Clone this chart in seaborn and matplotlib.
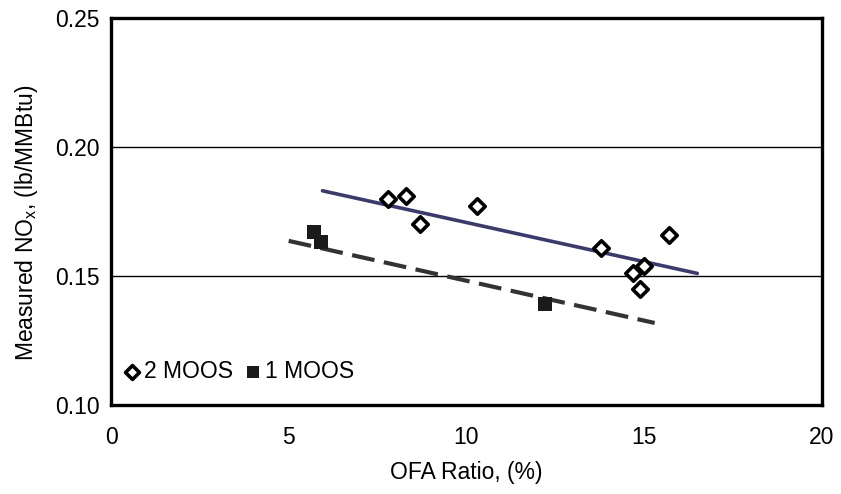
"""NOx vs OFA ratio scatter with trend lines."""
import matplotlib
matplotlib.use("Agg")
import matplotlib.pyplot as plt
import numpy as np
import pandas as pd
import seaborn as sns

# 2 MOOS data
ofa_2moos = [7.8, 8.3, 8.7, 10.3, 13.8, 14.7, 14.9, 15.0, 15.7]
nox_2moos = [0.180, 0.181, 0.170, 0.177, 0.161, 0.151, 0.145, 0.154, 0.166]
# 1 MOOS data
ofa_1moos = [5.7, 5.9, 12.2]
nox_1moos = [0.167, 0.163, 0.139]
# trend line end points
trend_2_x = [5.95, 16.5]
trend_2_y = [0.183, 0.151]
trend_1_x = [5.0, 15.3]
trend_1_y = [0.1636, 0.1318]

x_ticks = [0, 5, 10, 15, 20]
y_ticks = [0.10, 0.15, 0.20, 0.25]

FS = 16.5

sns.set_theme(style="white")
plt.rcParams.update({
    "font.family": ["Liberation Sans", "DejaVu Sans"],
    "text.color": "black",
    "axes.labelcolor": "black",
    "xtick.color": "black",
    "ytick.color": "black",
})

fig = plt.figure(figsize=(8.41, 4.94), dpi=100)
ax = fig.add_axes([0.132, 0.180, 0.845, 0.784])

for yv in [0.15, 0.20]:
    ax.axhline(yv, color="black", lw=1.0, zorder=1)

sns.lineplot(x=trend_2_x, y=trend_2_y, ax=ax, color="#3b3b6b", lw=2.6,
             zorder=2, legend=False)
sns.lineplot(x=trend_1_x, y=trend_1_y, ax=ax, color="#333333", lw=3.0,
             zorder=2, legend=False)
ax.lines[-1].set_dashes([5.5, 2.3])

sns.scatterplot(x=ofa_2moos, y=nox_2moos, ax=ax, marker="D", s=62,
                facecolor="white", edgecolor="black", linewidth=2.6,
                label="2 MOOS", zorder=3)
sns.scatterplot(x=ofa_1moos, y=nox_1moos, ax=ax, marker="s", s=105,
                color="#1a1a1a", edgecolor="#1a1a1a", linewidth=0,
                label="1 MOOS", zorder=3)

ax.set_xlim(0, 20)
ax.set_ylim(0.10, 0.25)
ax.set_xticks(x_ticks)
ax.set_xticklabels([str(v) for v in x_ticks])
ax.set_yticks(y_ticks)
ax.set_yticklabels([f"{v:.2f}" for v in y_ticks])
ax.tick_params(axis="both", direction="out", length=5, width=1.2,
               color="black", labelcolor="black", labelsize=FS, pad=3)
ax.tick_params(axis="x", pad=10)
for sp in ax.spines.values():
    sp.set_linewidth(2.4)
    sp.set_color("black")

ax.set_xlabel("OFA Ratio, (%)", fontsize=FS, labelpad=9)
ax.set_ylabel("Measured NO$_\\mathregular{x}$, (lb/MMBtu)", fontsize=FS)
ax.yaxis.set_label_coords(-0.10, 0.47)

ax.legend(loc="lower left", bbox_to_anchor=(-0.013, 0.01), ncol=2,
          frameon=False, fontsize=FS, handlelength=1.0, handletextpad=0.05,
          columnspacing=0.35, borderpad=0.3, markerscale=0.9)

fig.savefig("out.png", dpi=100)
